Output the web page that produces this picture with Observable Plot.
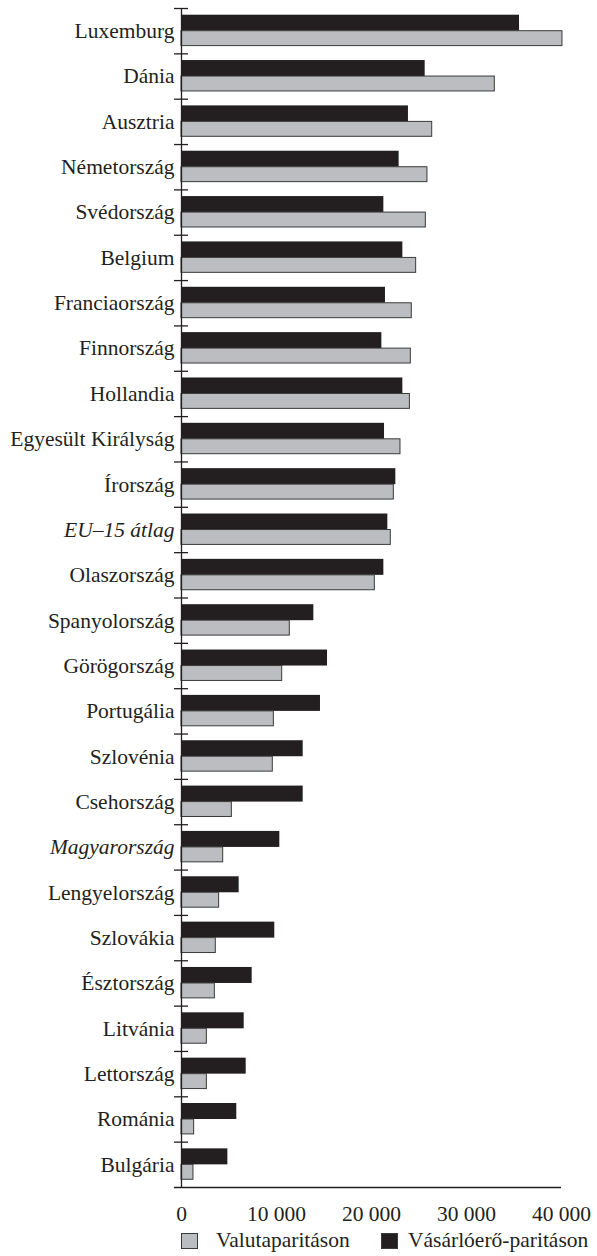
<!DOCTYPE html>
<html>
<head>
<meta charset="utf-8">
<script src="https://cdn.jsdelivr.net/npm/d3@7"></script>
<script src="https://cdn.jsdelivr.net/npm/@observablehq/plot@0.6"></script>
<style>
  html, body { margin: 0; padding: 0; background: #fff; }
  #wrap { position: relative; width: 597px; height: 1256px; font-family: "Liberation Serif", "Times New Roman", serif; color: #231f20; }
  #legend { position: absolute; left: 0; top: 1230px; width: 597px; height: 24px; font-size: 21.5px; }
  .sw { position: absolute; top: 3px; width: 17px; height: 16px; box-sizing: border-box; border: 1px solid #3a3a3a; }
  .lt { position: absolute; top: -2px; line-height: 24px; white-space: nowrap; }
</style>
</head>
<body>
<div id="wrap">
  <div id="chart"></div>
  <div id="legend"></div>
</div>
<script>
const categories = [
  "Luxemburg", "Dánia", "Ausztria", "Németország", "Svédország", "Belgium",
  "Franciaország", "Finnország", "Hollandia", "Egyesült Királyság", "Írország",
  "EU–15 átlag", "Olaszország", "Spanyolország", "Görögország", "Portugália",
  "Szlovénia", "Csehország", "Magyarország", "Lengyelország", "Szlovákia",
  "Észtország", "Litvánia", "Lettország", "Románia", "Bulgária"
];
const italicCategories = ["EU–15 átlag", "Magyarország"];
// Valutaparitáson (gray)
const valuta = [
  40100, 32980, 26390, 25890, 25720, 24700,
  24240, 24140, 24040, 23050, 22350,
  22030, 20350, 11400, 10600, 9720,
  9610, 5300, 4390, 3960, 3610,
  3510, 2670, 2670, 1330, 1260
];
// Vásárlóerő-paritáson (black)
const vasarlo = [
  35580, 25650, 23890, 22910, 21300, 23300,
  21470, 21090, 23300, 21370, 22560,
  21720, 21300, 13930, 15370, 14630,
  12810, 12810, 10350, 6070, 9820,
  7440, 6600, 6810, 5820, 4880
];
const xTicks = [0, 10000, 20000, 30000, 40000];
const seriesNames = ["Valutaparitáson", "Vásárlóerő-paritáson"];
const seriesColors = ["#bcbdc0", "#231f20"];

const data = categories.map((c, i) => ({country: c, valuta: valuta[i], vasarlo: vasarlo[i]}));

const W = 597, H = 1228;
const mL = 181, mR = 36, mT = 8, mB = 41;
const step = (H - mT - mB) / categories.length;
const pxPerUnit = (W - mL - mR) / 40000;
const tk = 7 / pxPerUnit;
const last = categories[categories.length - 1];
const fmt = d => d === 0 ? "0" : d3.format(",")(d).replace(/,/g, " ");
const FS = 21.5;

const chart = Plot.plot({
  width: W, height: H,
  marginLeft: mL, marginRight: mR, marginTop: mT, marginBottom: mB,
  x: {domain: [0, 40000], axis: null},
  y: {domain: categories, padding: 0, round: false, axis: null},
  style: {fontFamily: "Liberation Serif, Times New Roman, serif", fontSize: FS + "px", color: "#231f20", background: "#fff", overflow: "visible"},
  marks: [
    Plot.barX(data, {y: "country", x: "vasarlo", fill: seriesColors[1], insetTop: 6.7, insetBottom: step - 22.7}),
    Plot.barX(data, {y: "country", x: "valuta", fill: seriesColors[0], stroke: "#3a3a3a", strokeWidth: 1, insetTop: 22.7, insetBottom: step - 37.6}),
    Plot.ruleX([0], {stroke: "#231f20", strokeWidth: 1.3}),
    Plot.ruleY(categories, {y: d => d, x1: -tk, x2: tk, dy: -step / 2, stroke: "#231f20", strokeWidth: 1.3}),
    Plot.ruleY([last], {y: d => d, x1: -tk, x2: 40000, dy: step / 2, stroke: "#231f20", strokeWidth: 1.3}),
    Plot.ruleX(xTicks, {x: d => d, y: () => last, insetTop: step - 7, insetBottom: -7, stroke: "#231f20", strokeWidth: 1.3}),
    Plot.text(xTicks, {x: d => d, y: () => last, text: fmt, dy: step / 2 + 27, fontSize: FS, fill: "#231f20"}),
    Plot.text(categories.filter(c => !italicCategories.includes(c)), {x: 0, y: d => d, text: d => d, textAnchor: "end", dx: -7, fontSize: FS, fill: "#231f20"}),
    Plot.text(italicCategories, {x: 0, y: d => d, text: d => d, textAnchor: "end", dx: -7, fontSize: FS, fontStyle: "italic", fill: "#231f20"})
  ]
});
document.getElementById("chart").appendChild(chart);

const legend = document.getElementById("legend");
const pos = [[181, 216], [381, 408]];
seriesNames.forEach((name, i) => {
  const sw = document.createElement("div");
  sw.className = "sw";
  sw.style.left = pos[i][0] + "px";
  sw.style.background = seriesColors[i];
  legend.appendChild(sw);
  const t = document.createElement("div");
  t.className = "lt";
  t.style.left = pos[i][1] + "px";
  t.textContent = name;
  legend.appendChild(t);
});
</script>
</body>
</html>
